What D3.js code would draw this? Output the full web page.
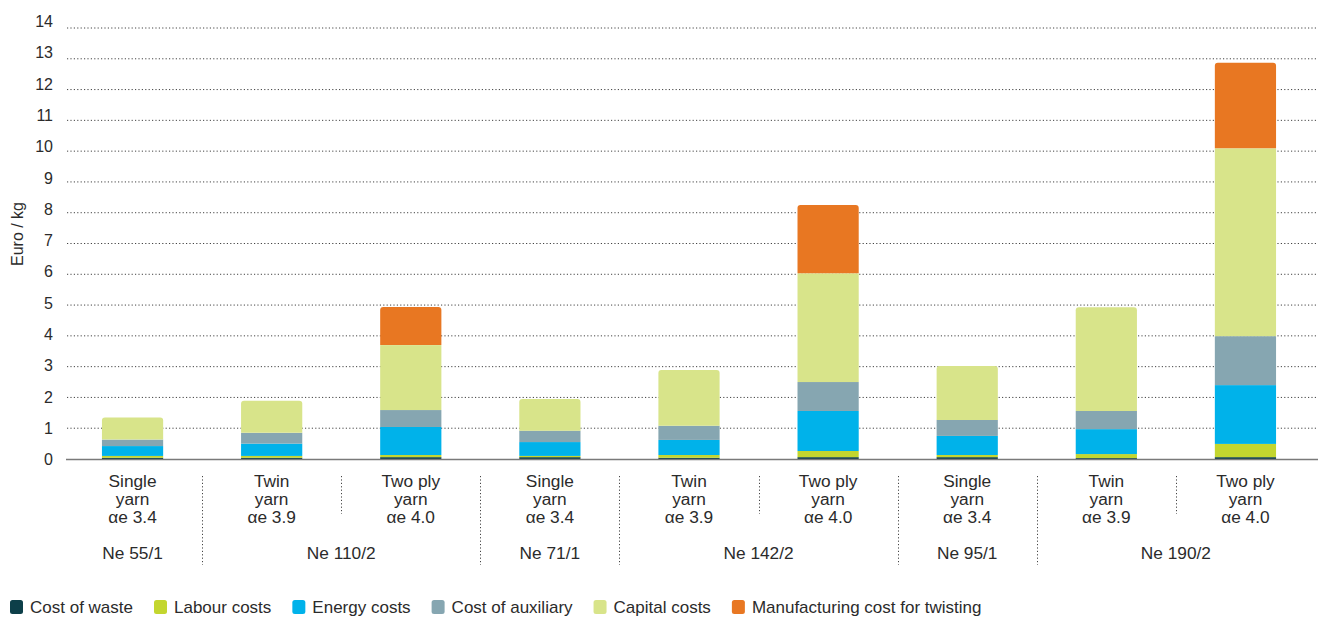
<!DOCTYPE html>
<html><head><meta charset="utf-8">
<script src="https://cdn.jsdelivr.net/npm/d3@7"></script>
<style>
html,body{margin:0;padding:0;background:#fff;}
svg{display:block;font-family:"Liberation Sans",Arial,sans-serif;}
</style></head>
<body><svg id="c" width="1322" height="617"></svg>
<script>
// ---- data ----
const line1 = ["Single","Twin","Two ply","Single","Twin","Two ply","Single","Twin","Two ply"];
const line2 = ["yarn","yarn","yarn","yarn","yarn","yarn","yarn","yarn","yarn"];
const line3 = ["αe 3.4","αe 3.9","αe 4.0","αe 3.4","αe 3.9","αe 4.0","αe 3.4","αe 3.9","αe 4.0"];
const groupLabels = ["Ne 55/1","Ne 110/2","Ne 71/1","Ne 142/2","Ne 95/1","Ne 190/2"];
const groupSpans = [[0,0],[1,2],[3,3],[4,5],[6,6],[7,8]];
const seriesNames = ["Cost of waste","Labour costs","Energy costs","Cost of auxiliary","Capital costs","Manufacturing cost for twisting"];
const seriesColors = ["#0d3f49","#c3d62f","#00b2ea","#86a6b1","#d8e48a","#e87722"];
const costOfWaste   = [0.04,0.04,0.06,0.06,0.04,0.06,0.06,0.03,0.06];
const labourCosts   = [0.06,0.06,0.07,0.04,0.09,0.20,0.07,0.13,0.43];
const energyCosts   = [0.32,0.40,0.91,0.45,0.49,1.30,0.62,0.81,1.91];
const auxiliaryCost = [0.21,0.35,0.55,0.37,0.46,0.94,0.52,0.59,1.59];
const capitalCosts  = [0.72,1.04,2.11,1.03,1.81,3.53,1.75,3.37,6.10];
const twistingCost  = [0,0,1.24,0,0,2.22,0,0,2.78];
const yTicks = [0,1,2,3,4,5,6,7,8,9,10,11,12,13,14];
const yTitle = "Euro / kg";

const seriesValues = [costOfWaste,labourCosts,energyCosts,auxiliaryCost,capitalCosts,twistingCost];
const idx = d3.range(line1.length);
const table = idx.map(i => {
  const o = {i};
  seriesNames.forEach((s,k)=>o[s]=seriesValues[k][i]);
  return o;
});

const svg = d3.select("#c");
const x = d3.scaleBand().domain(idx).range([63,1315]).paddingInner(0.56).paddingOuter(0.28);
const y = d3.scaleLinear().domain([0,14]).range([459,28]);
const yLab = d3.scaleLinear().domain([0,14]).range([459,21]);
const step = x.step();
const textCol = "#2b2b2b";

// grid
svg.append("g").selectAll("line").data(yTicks.filter(t=>t>0)).join("line")
  .attr("x1",67).attr("x2",1318).attr("y1",d=>y(d)).attr("y2",d=>y(d))
  .attr("stroke","#444").attr("stroke-width",1).attr("stroke-dasharray","1.2,2.2");

// y labels via axis
const yAxis = d3.axisLeft(yLab).tickValues(yTicks).tickSize(0).tickPadding(0).tickFormat(d3.format("d"));
const ya = svg.append("g").attr("transform","translate(53,0)").call(yAxis);
ya.select(".domain").remove();
ya.selectAll("text").attr("font-size",16).attr("fill",textCol).attr("font-family","Liberation Sans, Arial, sans-serif").attr("dy","0.35em");

svg.append("text").attr("transform","translate(23,234) rotate(-90)")
  .attr("text-anchor","middle").attr("font-size",16).attr("fill",textCol).text(yTitle);

// stacks
const stack = d3.stack().keys(seriesNames)(table);
const topIndex = idx.map(i => { let t=0; seriesNames.forEach((s,k)=>{ if(seriesValues[k][i]>0) t=k; }); return t; });
const r = 3;
stack.forEach((layer,k)=>{
  const g = svg.append("g").attr("fill",seriesColors[k]);
  layer.forEach((d,i)=>{
    if (d[1]-d[0] <= 0) return;
    const x0 = x(i), w = x.bandwidth(), y0 = y(d[0]), y1 = y(d[1]);
    if (topIndex[i]===k) {
      const p = d3.path();
      p.moveTo(x0,y0); p.lineTo(x0,y1+r); p.quadraticCurveTo(x0,y1,x0+r,y1);
      p.lineTo(x0+w-r,y1); p.quadraticCurveTo(x0+w,y1,x0+w,y1+r); p.lineTo(x0+w,y0); p.closePath();
      g.append("path").attr("d",p.toString());
    } else {
      g.append("rect").attr("x",x0).attr("y",y1).attr("width",w).attr("height",y0-y1);
    }
  });
});

// baseline
svg.append("line").attr("x1",66).attr("x2",1318).attr("y1",y(0)+0.5).attr("y2",y(0)+0.5)
  .attr("stroke","#7a7a7a").attr("stroke-width",1.6);

// x labels
const xl = svg.append("g").attr("font-size",17.3).attr("fill",textCol).attr("text-anchor","middle");
[[line1,487],[line2,505],[line3,523]].forEach(([arr,yy])=>{
  xl.selectAll(null).data(idx).join("text").attr("x",i=>x(i)+x.bandwidth()/2).attr("y",yy).text(i=>arr[i]);
});
xl.selectAll(null).data(groupLabels).join("text")
  .attr("x",(d,g)=>{const [a,b]=groupSpans[g]; return (x(a)+x(b)+x.bandwidth())/2;})
  .attr("y",559).text(d=>d);

// separators
const groupEnds = new Set(groupSpans.map(s=>s[1]));
const seps = idx.slice(0,-1);
svg.append("g").selectAll("line").data(seps).join("line")
  .attr("x1",i=>Math.round(x(i)+x.bandwidth()/2+step/2)+0.5)
  .attr("x2",i=>Math.round(x(i)+x.bandwidth()/2+step/2)+0.5)
  .attr("y1",476).attr("y2",i=>groupEnds.has(i)?565:514)
  .attr("stroke","#444").attr("stroke-width",1).attr("stroke-dasharray","1.2,2.2");

// legend
const lg = svg.append("g");
let lx = 10;
seriesNames.forEach((s,k)=>{
  lg.append("rect").attr("x",lx).attr("y",600).attr("width",13).attr("height",14).attr("rx",2.5).attr("fill",seriesColors[k]);
  const t = lg.append("text").attr("x",lx+20).attr("y",613).attr("font-size",17).attr("fill",textCol).text(s);
  lx += 20 + t.node().getComputedTextLength() + 21;
});
</script></body></html>
